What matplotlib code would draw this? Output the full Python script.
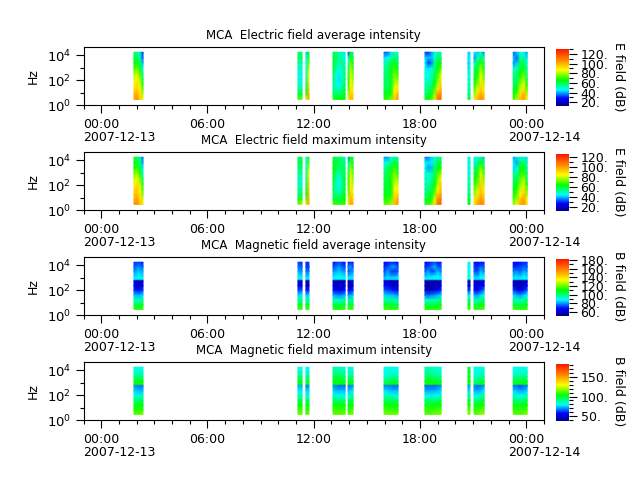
import numpy as np
import matplotlib
matplotlib.use("Agg")
import matplotlib.pyplot as plt
from matplotlib.colors import LinearSegmentedColormap, Normalize
from matplotlib.cm import ScalarMappable
from matplotlib.ticker import FixedLocator, FixedFormatter, FuncFormatter

# Observation intervals, hours after 2007-12-13 00:00
SEG_START = [1.85, 11.11, 11.56, 13.09, 13.94, 15.97, 18.28, 20.71, 21.05, 23.26]
SEG_END = [2.36, 11.34, 11.73, 13.77, 14.22, 16.76, 19.19, 20.82, 21.62, 24.05]

# Band frequencies in Hz, listed from the highest band down
E_FREQ = [17800, 6300, 2400, 900, 340, 125, 47, 18, 7.5, 3]
B_FREQ = [17800, 7400, 3160, 1320, 720, 560, 230, 98, 41, 17, 7.2, 3]

# Spectra in dB: one list per interval, one row per time sample, high band first
E_AVG = [
    [[58,60,64,70,78,84,88,92,98,104],[55,60,66,74,82,88,92,96,102,106],[50,52,57,64,72,78,84,88,92,96],[30,34,40,46,54,60,66,72,80,86]],
    [[56,58,54,52,50,50,52,56,60,70],[56,58,52,48,45,45,48,54,64,76]],
    [[42,46,48,50,52,54,58,62,70,86],[62,68,74,80,85,88,92,96,100,104]],
    [[58,60,62,62,60,58,56,56,58,68],[56,58,58,54,50,48,48,52,58,66],[52,54,52,48,45,44,46,52,58,66],[50,52,54,52,50,50,52,56,60,66],[44,48,52,56,58,58,58,60,62,66]],
    [[30,46,50,56,60,64,68,72,78,88],[62,68,74,80,84,86,88,92,96,100],[54,58,64,68,72,76,80,86,92,98]],
    [[34,44,50,54,56,58,60,62,64,68],[34,46,54,56,58,58,58,60,64,70],[44,52,60,64,64,62,62,64,68,76],[50,58,64,70,74,78,82,86,90,96],[48,54,58,62,70,76,82,90,100,106]],
    [[32,44,46,48,50,50,52,54,58,64],[30,42,32,44,46,48,52,56,60,66],[38,42,36,50,50,54,56,60,64,70],[46,50,54,56,58,62,66,72,78,84],[52,58,62,66,70,74,80,90,104,112],[50,56,64,72,82,88,94,100,108,114]],
    [[42,44,42,44,46,48,50,52,56,60],[44,46,46,48,50,50,52,54,58,62]],
    [[46,38,50,56,60,64,68,72,78,88],[42,50,58,62,66,70,76,84,92,100],[48,60,70,78,84,88,92,96,102,108],[36,50,58,64,70,74,80,86,94,102]],
    [[34,44,38,50,54,56,58,62,66,70],[42,34,42,50,56,58,62,66,72,80],[48,54,58,62,66,70,76,82,92,98],[46,54,60,64,72,78,84,90,100,104],[38,44,48,52,56,60,66,72,80,88]],
]
E_MAX = [
    [[60,62,66,72,80,86,90,94,98,102],[58,62,68,76,84,90,94,96,100,104],[52,54,60,66,74,80,86,88,92,96],[34,38,44,48,56,62,68,74,82,88]],
    [[56,58,56,54,52,52,54,56,62,72],[58,60,56,50,48,48,52,58,68,80]],
    [[44,48,50,52,54,56,60,64,72,88],[66,72,78,84,88,90,92,96,98,102]],
    [[60,62,64,64,62,60,58,58,60,70],[58,60,60,56,52,50,50,54,60,68],[56,58,56,50,46,46,48,54,60,68],[54,56,58,56,54,52,54,58,62,68],[50,54,56,60,62,62,62,62,64,68]],
    [[36,48,52,58,62,66,70,74,80,90],[64,70,76,82,86,88,90,94,96,100],[56,60,66,70,74,78,84,88,92,96]],
    [[38,46,52,56,58,60,62,64,66,72],[38,48,56,58,60,60,60,62,66,72],[46,54,62,66,66,64,64,66,70,78],[52,62,68,74,78,82,86,90,92,96],[50,56,60,66,74,80,86,92,100,104]],
    [[36,46,48,50,52,52,54,56,60,66],[36,44,38,46,48,50,54,58,62,68],[42,44,40,52,52,56,58,62,66,72],[48,52,56,58,60,64,68,74,82,88],[54,60,64,70,74,78,84,94,104,110],[52,58,66,76,86,92,96,102,108,112]],
    [[44,46,44,46,48,50,52,54,58,62],[46,48,48,50,52,52,54,56,60,64]],
    [[48,44,54,58,64,68,72,76,82,90],[46,54,60,64,68,72,80,88,94,100],[52,64,74,82,90,92,94,98,102,106],[40,54,62,68,74,78,84,90,96,102]],
    [[38,46,42,52,56,58,62,66,70,74],[44,38,46,52,58,62,66,70,76,84],[50,56,62,66,70,74,80,86,94,98],[48,58,64,68,76,82,88,94,100,104],[42,48,52,56,58,64,70,76,84,90]],
]
B_AVG = [
    [[72,76,80,86,90,66,66,72,84,94,104,114],[74,80,84,88,92,62,62,70,82,92,104,112],[70,76,82,86,90,60,64,74,86,96,106,116]],
    [[74,78,82,88,92,62,64,74,86,96,106,116],[72,76,80,86,90,66,66,76,88,98,108,116]],
    [[70,74,78,84,88,58,60,70,84,94,104,114],[76,72,78,86,90,60,62,72,86,96,106,116]],
    [[70,74,80,86,90,62,64,70,82,94,104,114],[72,78,82,88,90,60,62,68,80,92,104,112],[74,80,84,88,90,60,60,66,78,92,104,112],[72,76,82,88,90,58,60,68,80,94,104,114],[70,74,80,86,88,58,62,70,82,96,106,116]],
    [[68,78,74,84,88,58,58,66,80,94,104,114],[72,82,78,86,88,58,60,68,82,96,106,116],[70,74,80,86,88,60,64,72,84,96,106,116]],
    [[68,72,74,80,86,62,70,76,86,96,106,116],[70,74,82,84,88,64,66,74,84,96,106,116],[72,80,74,82,88,60,62,72,84,96,106,114],[70,82,72,82,88,58,60,70,82,94,104,114],[70,74,76,84,88,58,60,68,80,94,104,114]],
    [[68,72,76,84,88,58,56,64,78,92,104,112],[70,74,82,86,90,56,56,62,76,92,104,112],[72,78,74,86,90,56,56,62,78,94,104,112],[74,84,76,88,90,56,58,64,80,94,104,114],[72,74,84,88,90,58,60,68,82,96,106,114],[70,76,78,86,88,60,62,72,86,98,108,116]],
    [[88,90,90,92,94,60,62,72,88,98,108,116],[88,90,90,92,94,60,64,74,90,100,110,118]],
    [[70,74,76,84,88,60,62,68,82,94,104,114],[68,72,74,82,88,60,62,68,80,94,104,114],[70,76,84,88,90,62,66,72,86,98,108,118],[70,76,78,88,90,62,68,80,90,100,110,118]],
    [[68,72,78,84,88,60,64,74,86,96,106,116],[68,72,80,86,88,58,60,68,82,94,104,114],[70,74,76,84,88,56,58,66,80,94,104,114],[72,76,82,88,90,58,62,70,84,96,106,114],[72,76,80,86,88,62,68,76,88,98,108,116]],
]
B_MAX = [
    [[82,84,90,100,104,70,76,84,92,100,106,114],[80,84,92,102,106,68,74,82,92,100,106,112],[80,84,90,102,106,68,74,84,94,102,108,116]],
    [[82,86,92,102,104,72,78,84,94,102,108,114],[80,84,90,100,102,72,78,86,96,104,110,116]],
    [[78,80,86,94,98,68,76,82,92,100,106,112],[80,84,92,102,104,70,76,84,94,102,108,114]],
    [[86,88,94,100,104,70,76,84,94,102,108,114],[86,90,96,102,106,68,74,82,94,102,108,114],[84,88,96,102,104,66,74,80,92,102,108,112],[84,88,94,100,104,66,74,80,92,102,108,114],[84,86,92,100,104,66,74,82,92,102,108,114]],
    [[78,82,88,98,102,68,74,82,92,100,106,112],[80,86,92,102,106,68,76,84,94,102,108,114],[80,84,90,98,102,70,78,86,96,104,110,116]],
    [[80,82,84,92,100,68,78,86,96,104,110,116],[80,82,84,94,102,68,76,84,94,102,108,114],[80,84,86,98,102,68,74,84,94,102,108,114],[80,82,90,100,102,66,74,82,94,102,108,114],[80,82,86,96,100,66,74,82,92,102,108,114]],
    [[84,86,92,100,104,66,72,80,92,102,108,112],[84,90,94,102,106,66,72,80,92,100,108,112],[84,88,94,102,106,66,72,78,92,102,108,112],[84,86,90,100,104,66,72,80,92,102,108,114],[82,84,90,98,104,68,74,82,94,102,110,114],[82,84,90,100,104,70,76,84,96,104,110,116]],
    [[96,98,100,102,104,70,76,86,96,104,110,116],[96,98,100,102,104,72,78,88,98,106,112,118]],
    [[80,82,84,94,100,68,72,80,90,100,108,114],[80,82,84,92,98,66,72,80,90,100,108,112],[82,84,88,98,102,68,74,84,96,104,110,118],[82,84,90,100,102,70,78,88,98,106,112,118]],
    [[80,82,86,96,100,68,76,84,94,102,108,114],[80,82,92,100,102,66,74,82,92,100,108,112],[80,84,88,98,100,64,72,80,90,100,108,112],[80,82,92,102,104,66,72,82,92,102,108,114],[80,84,88,98,102,68,76,86,96,104,110,116]],
]

TITLES = ["MCA  Electric field average intensity", "MCA  Electric field maximum intensity",
          "MCA  Magnetic field average intensity", "MCA  Magnetic field maximum intensity"]
UNITS = ["E field (dB)", "E field (dB)", "B field (dB)", "B field (dB)"]
V_LIMITS = [(13, 130), (13, 127), (52, 182), (39, 182)]
CBAR_MAJOR = [range(20, 121, 20), range(20, 121, 20), range(60, 181, 20), range(50, 151, 50)]
HOUR_LABELS = {0: "00:00", 6: "06:00", 12: "12:00", 18: "18:00", 24: "00:00"}
DATES = {0: "2007-12-13", 24: "2007-12-14"}

spectra = [(E_AVG, E_FREQ), (E_MAX, E_FREQ), (B_AVG, B_FREQ), (B_MAX, B_FREQ)]
axes_tops = [47.3, 152.3, 257.3, 362.3]
W, H = 640.0, 480.0

plt.rcParams["font.size"] = 9
cmap = LinearSegmentedColormap.from_list("spectrum", [
    (0.00, (0.0, 0.0, 0.55)), (0.13, (0.0, 0.0, 1.0)), (0.28, (0.0, 1.0, 1.0)),
    (0.45, (0.0, 1.0, 0.0)), (0.63, (1.0, 1.0, 0.0)), (0.80, (1.0, 0.55, 0.0)),
    (1.00, (1.0, 0.08, 0.0))], N=256)

fig = plt.figure(figsize=(6.4, 4.8), dpi=100)

for i, (segments, freq) in enumerate(spectra):
    top = axes_tops[i]
    ax = fig.add_axes([83.5 / W, 1 - (top + 58) / H, 460.5 / W, 58 / H])
    norm = Normalize(*V_LIMITS[i])
    for start, end, columns in zip(SEG_START, SEG_END, segments):
        values = np.array(columns, dtype=float).T
        xs = np.linspace(start, end, values.shape[1])
        X, Y = np.meshgrid(xs, freq)
        ax.pcolormesh(X, Y, values, cmap=cmap, norm=norm, shading="gouraud")
    ax.set_yscale("log")
    ax.set_xlim(-1, 25)
    ax.set_ylim(1, 4.4e4)
    ax.set_ylabel("Hz", labelpad=3)
    ax.set_title(TITLES[i], fontsize=8.5, pad=6)

    ax.set_xticks(list(HOUR_LABELS))
    ax.set_xticklabels(list(HOUR_LABELS.values()))
    ax.xaxis.set_minor_locator(FixedLocator([h for h in range(-1, 26) if h % 6]))
    ax.tick_params(axis="x", which="major", length=5.8, width=0.8, pad=3.5)
    ax.tick_params(axis="x", which="minor", length=2.9, width=0.8)

    ax.yaxis.set_major_locator(FixedLocator([1, 1e2, 1e4]))
    ax.yaxis.set_major_formatter(FixedFormatter([r"$10^{0}$", r"$10^{2}$", r"$10^{4}$"]))
    ax.yaxis.set_minor_locator(FixedLocator([10, 1e3]))
    ax.yaxis.set_minor_formatter(FixedFormatter(["", ""]))
    ax.tick_params(axis="y", which="major", length=5.8, width=0.8, labelsize=9.5, pad=3)
    ax.tick_params(axis="y", which="minor", length=2.9, width=0.8)
    ax.yaxis.labelpad = 5

    for hour, date in DATES.items():
        ax.annotate(date, xy=(hour, 0), xycoords=("data", "axes fraction"),
                    xytext=(-13, -23), textcoords="offset points", ha="left", va="center")

    # Colour scale beside the panel, without an outline
    cax = fig.add_axes([556 / W, 1 - (top + 58.4) / H, 12.7 / W, 56.7 / H])
    cbar = fig.colorbar(ScalarMappable(norm=norm, cmap=cmap), cax=cax)
    cbar.outline.set_visible(False)
    cbar.set_ticks(list(CBAR_MAJOR[i]))
    cbar.ax.yaxis.set_major_formatter(FuncFormatter(lambda v, _: f"{v:.0f}."))
    vmin, vmax = V_LIMITS[i]
    cbar.ax.yaxis.set_minor_locator(FixedLocator(list(range(int(np.ceil(vmin / 10)) * 10, vmax + 1, 10))))
    cbar.ax.tick_params(which="major", length=5.5, width=0.8, pad=3)
    cbar.ax.tick_params(which="minor", length=2.9, width=0.8)
    fig.text(618 / W, 1 - (top + 29) / H, UNITS[i], rotation=270, ha="center", va="center")

fig.savefig("out.png", dpi=100)
